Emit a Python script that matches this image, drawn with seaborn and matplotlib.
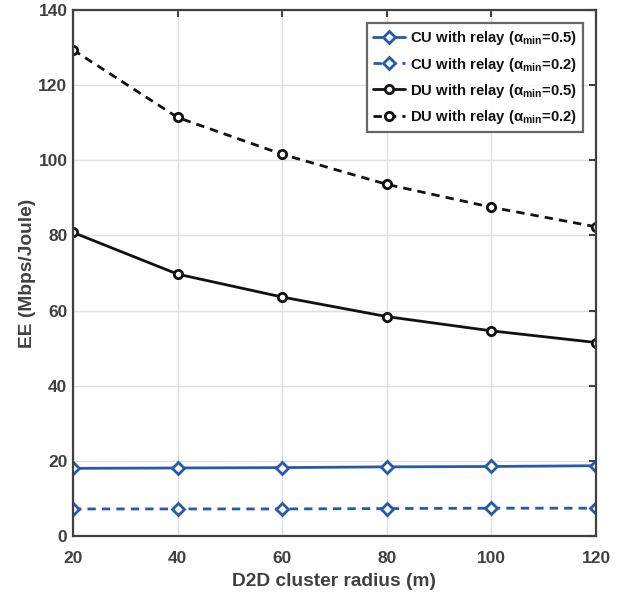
import matplotlib
matplotlib.use("Agg")
import matplotlib.pyplot as plt
import seaborn as sns
import pandas as pd

radius = [20, 40, 60, 80, 100, 120]
cu_05 = [18.0, 18.1, 18.2, 18.4, 18.5, 18.7]
cu_02 = [7.2, 7.2, 7.2, 7.3, 7.4, 7.4]
du_05 = [80.8, 69.7, 63.6, 58.4, 54.6, 51.5]
du_02 = [129.4, 111.4, 101.6, 93.6, 87.5, 82.3]
labels = [r"CU with relay ($\alpha_{min}$=0.5)", r"CU with relay ($\alpha_{min}$=0.2)",
          r"DU with relay ($\alpha_{min}$=0.5)", r"DU with relay ($\alpha_{min}$=0.2)"]

sns.set_style("white")
plt.rcParams['font.family'] = ['Liberation Sans', 'DejaVu Sans']
plt.rcParams['mathtext.fontset'] = 'custom'
plt.rcParams['mathtext.rm'] = 'Liberation Sans:bold'
plt.rcParams['mathtext.it'] = 'Liberation Sans:bold'

fig = plt.figure(figsize=(6.31, 5.96), dpi=100)
ax = fig.add_axes([0.1157, 0.1007, 0.8288, 0.8825])

blue = "#2859a8"
series = [(blue, "-", "D"), (blue, "--", "D"),
          ("#111111", "-", "o"), ("#111111", "--", "o")]
for vals, lab, (c, ls, m) in zip([cu_05, cu_02, du_05, du_02], labels, series):
    df = pd.DataFrame({"r": radius, "ee": vals})
    sns.lineplot(data=df, x="r", y="ee", ax=ax, color=c, linestyle=ls, marker=m,
                 markersize=6 if m == "o" else 6.5, markerfacecolor="white",
                 markeredgecolor=c, markeredgewidth=2, linewidth=2, label=lab)
for line in ax.get_lines():
    if line.get_linestyle() == "--":
        line.set_dashes((3, 2.2))

ax.set_xlim(20, 120)
ax.set_ylim(0, 140)
ax.set_xticks(radius)
ax.set_yticks(range(0, 141, 20))
ax.grid(True, color="#e0e0e0", linewidth=1)
for s in ax.spines.values():
    s.set_color("#404040")
    s.set_linewidth(1.6)
ax.tick_params(direction="in", length=5, width=1.5, color="#404040",
               labelcolor="#404040", labelsize=12.5, top=True, right=True)
ax.tick_params(axis="x", pad=10.5)
ax.tick_params(axis="y", pad=4)
for t in ax.get_xticklabels() + ax.get_yticklabels():
    t.set_fontweight("bold")
ax.set_xlabel("D2D cluster radius (m)", fontsize=13.8, fontweight="bold", color="#404040",
              labelpad=5)
ax.set_ylabel("EE (Mbps/Joule)", fontsize=13.8, fontweight="bold", color="#404040",
              labelpad=2)

leg = ax.legend(loc="upper right", fontsize=10.7, frameon=True, fancybox=False,
                edgecolor="#404040", borderaxespad=0.9, handlelength=2.2,
                handletextpad=0.3, labelspacing=0.55, borderpad=0.4)
leg.get_frame().set_linewidth(1.6)
for t in leg.get_texts():
    t.set_fontweight("bold")
    t.set_color("#111111")
for h in leg.get_lines():
    if h.get_linestyle() == "--":
        h.set_dashes((3, 2.2))

fig.savefig("out.png", dpi=100)
